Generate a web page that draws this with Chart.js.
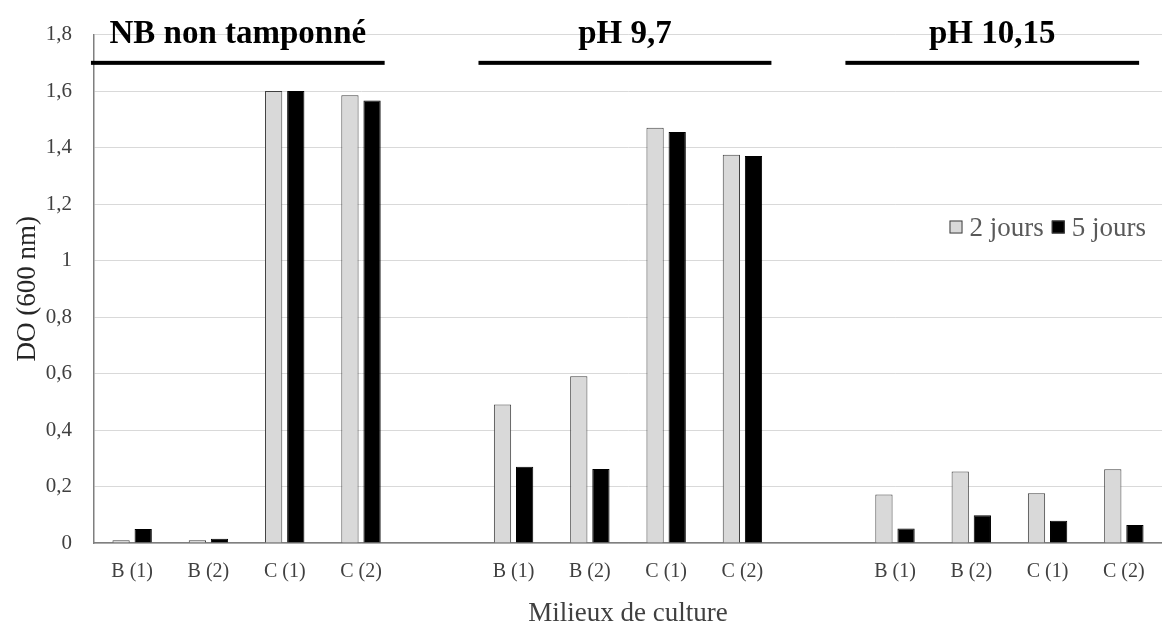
<!DOCTYPE html>
<html>
<head>
<meta charset="utf-8">
<script src="https://cdn.jsdelivr.net/npm/chart.js@4"></script>
<style>
  html, body { margin: 0; padding: 0; background: #fff; }
  #wrap { width: 1162px; height: 634px; }
</style>
</head>
<body>
<div id="wrap"><canvas id="myChart" width="1162" height="634"></canvas></div>
<script>
// categories (empty slots separate the three media)
var categories = ['B (1)', 'B (2)', 'C (1)', 'C (2)', '',
                  'B (1)', 'B (2)', 'C (1)', 'C (2)', '',
                  'B (1)', 'B (2)', 'C (1)', 'C (2)'];
var jours2 = [0.01, 0.01, 1.60, 1.585, null,
              0.49, 0.59, 1.47, 1.375, null,
              0.172, 0.253, 0.176, 0.261];
var jours5 = [0.05, 0.015, 1.60, 1.567, null,
              0.27, 0.262, 1.455, 1.37, null,
              0.051, 0.098, 0.079, 0.064];
var seriesNames = ['2 jours', '5 jours'];
var seriesColors = ['#d9d9d9', '#000000'];
var yTicks = [0, 0.2, 0.4, 0.6, 0.8, 1, 1.2, 1.4, 1.6, 1.8];

// group headings with the span of their underline (in category units)
var groupLabels = ['NB non tamponné', 'pH 9,7', 'pH 10,15'];
var groupFrom = [-0.54, 4.54, 9.35];
var groupTo = [3.31, 8.38, 13.2];

var serif = "'Liberation Serif', 'Times New Roman', serif";

var groupPlugin = {
  id: 'groups',
  afterDraw: function (chart) {
    var c = chart.ctx, x = chart.scales.x, y = chart.scales.y;
    c.save();
    var lineY = y.getPixelForValue(1.70);
    var textY = y.getPixelForValue(1.80);
    for (var i = 0; i < groupLabels.length; i++) {
      var x1 = x.getPixelForValue(groupFrom[i]);
      var x2 = x.getPixelForValue(groupTo[i]);
      c.fillStyle = '#000';
      c.fillRect(x1, lineY - 2, x2 - x1, 4);
      c.font = 'bold 33px ' + serif;
      c.textAlign = 'center';
      c.textBaseline = 'middle';
      c.fillText(groupLabels[i], (x1 + x2) / 2, textY);
    }
    // legend inside the plot
    var ly = y.getPixelForValue(1.117);
    c.font = '27px ' + serif;
    c.textBaseline = 'middle';
    c.textAlign = 'left';
    var xr = 1147;
    var w2 = c.measureText(seriesNames[1]).width;
    var w1 = c.measureText(seriesNames[0]).width;
    var bx2 = xr - w2 - 8 - 13;
    var bx1 = bx2 - 8 - w1 - 7 - 13;
    var boxes = [bx1, bx2];
    for (var k = 0; k < 2; k++) {
      c.fillStyle = seriesColors[k];
      c.fillRect(boxes[k], ly - 7, 13, 13);
      c.strokeStyle = '#404040';
      c.lineWidth = 1;
      c.strokeRect(boxes[k] + 0.5, ly - 6.5, 12, 12);
      c.fillStyle = '#595959';
      c.fillText(seriesNames[k], boxes[k] + 13 + 7, ly + 1);
    }
    c.restore();
  }
};

var ctx = document.getElementById('myChart').getContext('2d');

var myChart = new Chart(ctx, {
  type: 'bar',
  data: {
    labels: categories,
    datasets: [{
      label: seriesNames[0],
      data: jours2,
      backgroundColor: seriesColors[0],
      borderColor: '#404040',
      borderWidth: 1
    }, {
      label: seriesNames[1],
      data: jours5,
      backgroundColor: seriesColors[1],
      borderColor: '#000',
      borderWidth: 1
    }]
  },
  plugins: [groupPlugin],
  options: {
    responsive: false,
    animation: false,
    categoryPercentage: 0.58,
    barPercentage: 0.78,
    layout: { padding: { top: 29, left: 0, right: 0, bottom: 0 } },
    plugins: {
      legend: { display: false },
      tooltip: { enabled: false }
    },
    scales: {
      x: {
        grid: { display: false, drawTicks: false },
        border: { display: true, color: '#7f7f7f', width: 1.5 },
        ticks: {
          padding: 17,
          color: '#404040',
          font: { family: serif, size: 20 },
          maxRotation: 0,
          autoSkip: false
        },
        title: {
          display: true,
          text: 'Milieux de culture',
          color: '#404040',
          font: { family: serif, size: 27 },
          padding: { top: 0, bottom: 4 }
        },
        afterFit: function (s) { s.height = 91; }
      },
      y: {
        min: 0,
        max: 1.8,
        afterBuildTicks: function (s) {
          s.ticks = yTicks.map(function (v) { return { value: v }; });
        },
        grid: { color: '#d9d9d9', lineWidth: 1, drawTicks: false },
        border: { display: true, color: '#7f7f7f', width: 1.5 },
        ticks: {
          padding: 22,
          color: '#404040',
          font: { family: serif, size: 21 },
          callback: function (v) { return String(Math.round(v * 10) / 10).replace('.', ','); }
        },
        title: {
          display: true,
          text: 'DO (600 nm)',
          color: '#262626',
          font: { family: serif, size: 27 },
          padding: { top: 12, bottom: 6 }
        },
        afterFit: function (s) { s.width = 94; }
      }
    }
  }
});
</script>
</body>
</html>
